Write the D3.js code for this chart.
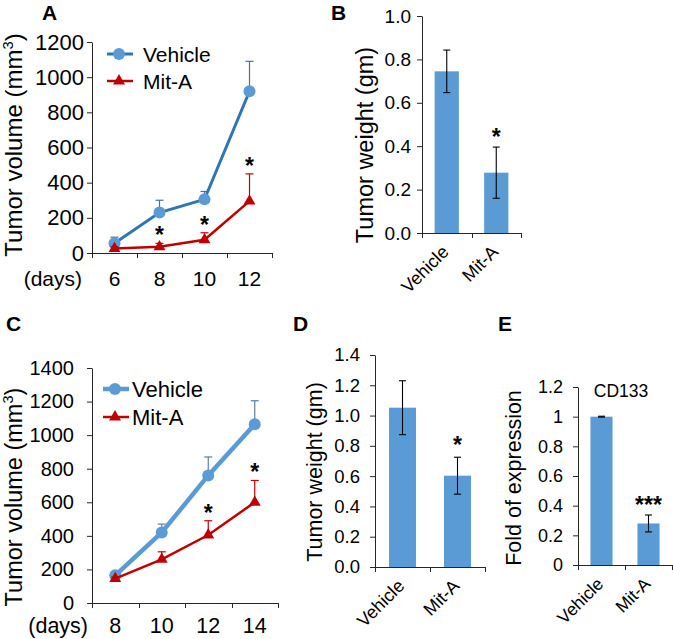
<!DOCTYPE html>
<html>
<head>
<meta charset="utf-8">
<script src="https://cdn.jsdelivr.net/npm/d3@7"></script>
<style>
  html, body { margin: 0; padding: 0; background: #fff; }
  text { font-family: "Liberation Sans", Arial, sans-serif; fill: #000; }
</style>
</head>
<body>
<script>
// ---------------- DATA ----------------
const daysA = ["6", "8", "10", "12"];
const vehicleA = [55, 230, 305, 920];
const vehicleAErr = [35, 70, 45, 170];
const mitA_A = [25, 35, 75, 295];
const mitA_AErr = [10, 20, 40, 155];
const sigA = ["", "*", "*", "*"];
const volTicksA = [0, 200, 400, 600, 800, 1000, 1200];

const daysC = ["8", "10", "12", "14"];
const vehicleC = [165, 420, 760, 1065];
const vehicleCErr = [10, 50, 110, 140];
const mitA_C = [145, 260, 405, 600];
const mitA_CErr = [10, 45, 85, 130];
const sigC = ["", "", "*", "*"];
const volTicksC = [0, 200, 400, 600, 800, 1000, 1200, 1400];

const groups = ["Vehicle", "Mit-A"];
const weightB = [0.745, 0.278];
const weightBErr = [0.098, 0.118];
const sigB = ["", "*"];
const weightTicksB = [0, 0.2, 0.4, 0.6, 0.8, 1.0];

const weightD = [1.052, 0.603];
const weightDErr = [0.178, 0.122];
const sigD = ["", "*"];
const weightTicksD = [0, 0.2, 0.4, 0.6, 0.8, 1.0, 1.2, 1.4];

const foldE = [1.0, 0.28];
const foldEErr = [0.003, 0.057];
const sigE = ["", "***"];
const foldTicksE = [0, 0.2, 0.4, 0.6, 0.8, 1.0, 1.2];

// ---------------- DRAWING ----------------
const svg = d3.select("body").append("svg").attr("width", 673).attr("height", 639);
const AX = "#262626";
const BLUE = "#5b9bd5", DBLUE = "#2e75b6", RED = "#c00000";
const SIG = 23;

function yAxis(y, x0, ticks, fmt, size, pad) {
  const g = svg.append("g").attr("transform", `translate(${x0},0)`)
    .call(d3.axisLeft(y).tickValues(ticks).tickSize(5).tickSizeOuter(0).tickPadding(pad).tickFormat(fmt));
  g.select(".domain").attr("stroke", AX);
  g.selectAll(".tick line").attr("stroke", AX);
  g.selectAll(".tick text").style("font-size", size + "px").attr("fill", "#000")
    .style("font-family", '"Liberation Sans", Arial, sans-serif');
  return g;
}

function xAxisLine(x, y0, x0, x1) {
  svg.append("line").attr("x1", x0).attr("x2", x1).attr("y1", y0 + 0.5).attr("y2", y0 + 0.5).attr("stroke", AX);
  const bounds = x.domain().map(d => x(d)).concat([x1]);
  svg.selectAll(null).data(bounds).enter().append("line")
    .attr("x1", d => Math.round(d) + 0.5).attr("x2", d => Math.round(d) + 0.5)
    .attr("y1", y0).attr("y2", y0 + 5).attr("stroke", AX);
}

function yTitle(txt, bx, cy, size, sup) {
  const t = svg.append("text").attr("transform", `translate(${bx},${cy}) rotate(-90)`)
    .attr("text-anchor", "middle").style("font-size", size + "px").text(txt);
  if (sup) {
    t.append("tspan").attr("dy", -size * 0.38).style("font-size", (size * 0.62) + "px").text(sup);
    t.append("tspan").attr("dy", size * 0.38).text(")");
  }
}

function panelLetter(l, x, y) {
  svg.append("text").attr("x", x).attr("y", y).style("font-size", "21px").style("font-weight", "bold").text(l);
}

function linePanel(o) {
  const x = d3.scaleBand().domain(o.cats).range([o.x0, o.x1]);
  const y = d3.scaleLinear().domain([0, o.ymax]).range([o.y0, o.y1]);
  const cx = d => x(d) + x.bandwidth() / 2;
  yAxis(y, o.x0, o.yticks, d3.format("d"), o.tickSize, o.pad);
  xAxisLine(x, o.y0, o.x0, o.x1);
  svg.selectAll(null).data(o.cats).enter().append("text")
    .attr("x", cx).attr("y", o.xlabY).attr("text-anchor", "middle")
    .style("font-size", o.xSize + "px").text(d => d);
  svg.append("text").attr("x", o.daysX).attr("y", o.xlabY).attr("text-anchor", "end")
    .style("font-size", o.xSize + "px").text("(days)");

  o.series.forEach(s => {
    const pts = o.cats.map((c, i) => ({c, v: s.vals[i], e: s.err[i]}));
    const eg = svg.append("g").attr("stroke", s.errColor).attr("stroke-width", 1.2);
    pts.forEach(p => {
      const xx = cx(p.c), yt = y(p.v + p.e);
      eg.append("line").attr("x1", xx).attr("x2", xx).attr("y1", y(p.v)).attr("y2", yt);
      eg.append("line").attr("x1", xx - 4).attr("x2", xx + 4).attr("y1", yt).attr("y2", yt);
    });
    svg.append("path").datum(pts)
      .attr("d", d3.line().x(p => cx(p.c)).y(p => y(p.v)))
      .attr("fill", "none").attr("stroke", s.lineColor).attr("stroke-width", s.lw);
    if (s.marker === "circle") {
      svg.selectAll(null).data(pts).enter().append("circle")
        .attr("cx", p => cx(p.c)).attr("cy", p => y(p.v)).attr("r", 6).attr("fill", s.markColor);
    } else {
      svg.selectAll(null).data(pts).enter().append("path")
        .attr("transform", p => `translate(${cx(p.c)},${y(p.v)})`)
        .attr("d", d3.symbol(d3.symbolTriangle).size(62)).attr("fill", s.markColor);
    }
  });
  const m = o.series[1];
  svg.selectAll(null).data(o.cats.map((c, i) => ({c, s: o.sig[i], t: m.vals[i] + m.err[i]}))).enter()
    .append("text").attr("x", d => cx(d.c)).attr("y", d => y(d.t))
    .attr("text-anchor", "middle").style("font-size", SIG + "px").style("font-weight", "bold").text(d => d.s);

  o.series.forEach((s, i) => {
    const ly = o.legY + i * o.legGap;
    svg.append("line").attr("x1", o.legX).attr("x2", o.legX + 26).attr("y1", ly).attr("y2", ly)
      .attr("stroke", s.lineColor).attr("stroke-width", s.lw);
    if (s.marker === "circle") svg.append("circle").attr("cx", o.legX + 12).attr("cy", ly).attr("r", 6).attr("fill", s.markColor);
    else svg.append("path").attr("transform", `translate(${o.legX + 12},${ly})`)
      .attr("d", d3.symbol(d3.symbolTriangle).size(62)).attr("fill", s.markColor);
    svg.append("text").attr("x", o.legX + o.legTx).attr("y", ly + o.legSize * 0.36)
      .style("font-size", o.legSize + "px").text(s.name);
  });
}

function barPanel(o) {
  const x = d3.scaleBand().domain(groups).range([o.x0, o.x1]);
  const y = d3.scaleLinear().domain([0, o.ymax]).range([o.y0, o.y1]);
  const cx = d => x(d) + x.bandwidth() / 2;
  const bw = x.bandwidth() * o.barFrac;
  yAxis(y, o.x0, o.yticks, o.fmt, o.tickSize, o.pad);
  const data = groups.map((g, i) => ({g, v: o.vals[i], e: o.err[i], s: o.sig[i]}));
  svg.selectAll(null).data(data).enter().append("rect")
    .attr("x", d => cx(d.g) - bw / 2).attr("width", bw)
    .attr("y", d => y(d.v)).attr("height", d => o.y0 - y(d.v)).attr("fill", BLUE);
  xAxisLine(x, o.y0, o.x0, o.x1);
  const eg = svg.append("g").attr("stroke", "#000").attr("stroke-width", 1.1);
  data.forEach(d => {
    const xx = cx(d.g);
    eg.append("line").attr("x1", xx).attr("x2", xx).attr("y1", y(d.v - d.e)).attr("y2", y(d.v + d.e));
    [d.v - d.e, d.v + d.e].forEach(v => eg.append("line").attr("x1", xx - 3.5).attr("x2", xx + 3.5).attr("y1", y(v)).attr("y2", y(v)));
  });
  svg.selectAll(null).data(data).enter().append("text")
    .attr("x", d => cx(d.g)).attr("y", d => y(d.v + d.e) - o.sigOff)
    .attr("text-anchor", "middle").style("font-size", SIG + "px").style("font-weight", "bold").text(d => d.s);
  svg.selectAll(null).data(groups).enter().append("text")
    .attr("transform", d => `translate(${cx(d) + 3},${o.y0 + 20}) rotate(-45)`)
    .attr("text-anchor", "end").style("font-size", o.xSize + "px").text(d => d);
}

// Panel A
linePanel({
  cats: daysA, x0: 92, x1: 272, y0: 253, y1: 42, ymax: 1200, yticks: volTicksA,
  tickSize: 22, pad: 3, xSize: 21, xlabY: 286, daysX: 82, sig: sigA,
  legX: 107, legY: 54, legGap: 27, legSize: 21, legTx: 36,
  series: [
    {name: "Vehicle", vals: vehicleA, err: vehicleAErr, lineColor: DBLUE, markColor: BLUE, errColor: "#4a6f9a", lw: 3, marker: "circle"},
    {name: "Mit-A", vals: mitA_A, err: mitA_AErr, lineColor: RED, markColor: RED, errColor: RED, lw: 2.5, marker: "tri"}
  ]
});
yTitle("Tumor volume (mm", 22, 145, 24, "3");
panelLetter("A", 42, 20);

// Panel C
linePanel({
  cats: daysC, x0: 92, x1: 278, y0: 603, y1: 368, ymax: 1400, yticks: volTicksC,
  tickSize: 20, pad: 13, xSize: 21.5, xlabY: 633, daysX: 88, sig: sigC,
  legX: 103, legY: 389, legGap: 28, legSize: 22, legTx: 29,
  series: [
    {name: "Vehicle", vals: vehicleC, err: vehicleCErr, lineColor: BLUE, markColor: BLUE, errColor: "#5a7ea6", lw: 4.5, marker: "circle"},
    {name: "Mit-A", vals: mitA_C, err: mitA_CErr, lineColor: RED, markColor: RED, errColor: RED, lw: 2.5, marker: "tri"}
  ]
});
yTitle("Tumor volume (mm", 22, 497, 23.5, "3");
panelLetter("C", 6, 331);

// Panel B
barPanel({
  x0: 422, x1: 521, y0: 233, y1: 16, ymax: 1.0, yticks: weightTicksB, fmt: d3.format(".1f"),
  tickSize: 19, pad: 6, vals: weightB, err: weightBErr, sig: sigB, barFrac: 0.49, sigOff: 2, xSize: 18
});
yTitle("Tumor weight (gm)", 373, 145, 23.5);
panelLetter("B", 331, 20);

// Panel D
barPanel({
  x0: 375, x1: 485, y0: 567, y1: 355, ymax: 1.4, yticks: weightTicksD, fmt: d3.format(".1f"),
  tickSize: 18.5, pad: 10, vals: weightD, err: weightDErr, sig: sigD, barFrac: 0.49, sigOff: 4, xSize: 18
});
yTitle("Tumor weight (gm)", 322, 472, 21.5);
panelLetter("D", 293, 331);

// Panel E
barPanel({
  x0: 578, x1: 672, y0: 565, y1: 387, ymax: 1.2, yticks: foldTicksE, fmt: d => d3.format("")(+d.toFixed(1)),
  tickSize: 18, pad: 10, vals: foldE, err: foldEErr, sig: sigE, barFrac: 0.47, sigOff: 2, xSize: 17.5
});
yTitle("Fold of expression", 521, 478, 21.5);
panelLetter("E", 498, 331);
svg.append("text").attr("x", 621).attr("y", 397).attr("text-anchor", "middle").style("font-size", "17.5px").text("CD133");
</script>
</body>
</html>
